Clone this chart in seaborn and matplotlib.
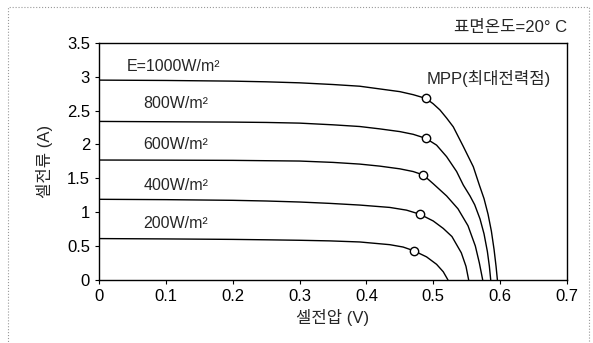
import seaborn as sns
import matplotlib.pyplot as plt
import matplotlib.ticker as mticker
from matplotlib.patches import Rectangle
import pandas as pd

# I-V curves (voltage V, current A)
irradiance = ["1000", "800", "600", "400", "200"]
v_1000 = [0, 0.10, 0.20, 0.25, 0.30, 0.35, 0.39, 0.42, 0.45, 0.47, 0.489, 0.50, 0.51,
          0.52, 0.53, 0.545, 0.56, 0.569, 0.576, 0.582, 0.587, 0.591, 0.594, 0.596]
i_1000 = [2.95, 2.945, 2.935, 2.925, 2.91, 2.885, 2.86, 2.82, 2.78, 2.735, 2.68, 2.60, 2.51,
          2.39, 2.26, 1.97, 1.67, 1.40, 1.20, 0.97, 0.72, 0.45, 0.20, 0]
v_800 = [0, 0.10, 0.20, 0.25, 0.30, 0.35, 0.39, 0.42, 0.45, 0.47, 0.489, 0.505, 0.52,
         0.535, 0.545, 0.555, 0.562, 0.570, 0.576, 0.581, 0.584, 0.586]
i_800 = [2.34, 2.335, 2.33, 2.325, 2.315, 2.29, 2.265, 2.23, 2.19, 2.15, 2.09, 1.99, 1.82,
         1.60, 1.40, 1.24, 1.11, 0.90, 0.68, 0.42, 0.20, 0]
v_600 = [0, 0.10, 0.20, 0.25, 0.30, 0.35, 0.39, 0.42, 0.45, 0.47, 0.485, 0.50, 0.52,
         0.537, 0.552, 0.563, 0.569, 0.574]
i_600 = [1.77, 1.768, 1.765, 1.76, 1.755, 1.735, 1.71, 1.68, 1.64, 1.60, 1.55, 1.42, 1.24,
         1.05, 0.80, 0.50, 0.25, 0]
v_400 = [0, 0.10, 0.20, 0.25, 0.30, 0.345, 0.39, 0.435, 0.46, 0.48, 0.50, 0.515, 0.528,
         0.542, 0.549, 0.553]
i_400 = [1.19, 1.185, 1.175, 1.165, 1.15, 1.13, 1.105, 1.07, 1.03, 0.97, 0.87, 0.76, 0.64,
         0.40, 0.20, 0]
v_200 = [0, 0.10, 0.20, 0.25, 0.30, 0.345, 0.39, 0.435, 0.455, 0.471, 0.49, 0.505,
         0.515, 0.522]
i_200 = [0.61, 0.605, 0.598, 0.592, 0.585, 0.576, 0.56, 0.52, 0.485, 0.43, 0.34, 0.23,
         0.12, 0]

# maximum power points
mpp_v = [0.489, 0.489, 0.485, 0.480, 0.471]
mpp_i = [2.68, 2.10, 1.55, 0.97, 0.43]

labels = ["E=1000W/m²", "800W/m²", "600W/m²", "400W/m²", "200W/m²"]
label_v = [0.042, 0.066, 0.066, 0.066, 0.066]
label_i = [3.15, 2.61, 2.00, 1.39, 0.84]

curves = {"1000": (v_1000, i_1000), "800": (v_800, i_800), "600": (v_600, i_600),
          "400": (v_400, i_400), "200": (v_200, i_200)}
rows = []
for e in irradiance:
    vs, cs = curves[e]
    for v, c in zip(vs, cs):
        rows.append({"E": e, "V": v, "I": c})
df = pd.DataFrame(rows)
mpp = pd.DataFrame({"V": mpp_v, "I": mpp_i})

sns.set_theme(style="white")
plt.rcParams["font.family"] = ["Liberation Sans", "Noto Sans CJK KR", "DejaVu Sans"]

fig = plt.figure(figsize=(5.93, 3.43), dpi=100)
ax = fig.add_axes([0.167, 0.184, 0.789, 0.691])

sns.lineplot(data=df, x="V", y="I", units="E", estimator=None, sort=False,
             color="black", linewidth=1.0, ax=ax)
sns.scatterplot(data=mpp, x="V", y="I", marker="o", s=36, facecolor="white",
                edgecolor="black", linewidth=1.0, zorder=5, ax=ax)

for t, x, y in zip(labels, label_v, label_i):
    ax.text(x, y, t, fontsize=11.5, va="center", ha="left")
ax.text(0.49, 2.97, "MPP(최대전력점)", fontsize=12, va="center", ha="left")
ax.text(1.0, 1.035, "표면온도=20° C", transform=ax.transAxes, fontsize=12,
        ha="right", va="bottom")

ax.set_xlim(0, 0.7)
ax.set_ylim(0, 3.5)
ax.set_xticks([0, 0.1, 0.2, 0.3, 0.4, 0.5, 0.6, 0.7])
ax.set_yticks([0, 0.5, 1, 1.5, 2, 2.5, 3, 3.5])
fmt = mticker.FuncFormatter(lambda v, p: f"{v:g}")
ax.xaxis.set_major_formatter(fmt)
ax.yaxis.set_major_formatter(fmt)
ax.tick_params(axis="both", direction="out", length=3, width=0.8, labelsize=12,
               colors="black", bottom=True, left=True)
ax.set_xlabel("셀전압 (V)", fontsize=12, labelpad=4)
ax.set_ylabel("셀전류 (A)", fontsize=12, labelpad=10)
for s in ax.spines.values():
    s.set_color("black")
    s.set_linewidth(1.0)

# dotted frame around the figure
fig.patches.append(Rectangle((8 / 593, -0.02), 581 / 593, 1 - 7 / 343 + 0.02,
                             transform=fig.transFigure, fill=False,
                             edgecolor="#999999", linestyle=":", linewidth=0.8))

fig.savefig("out.png", dpi=100)
